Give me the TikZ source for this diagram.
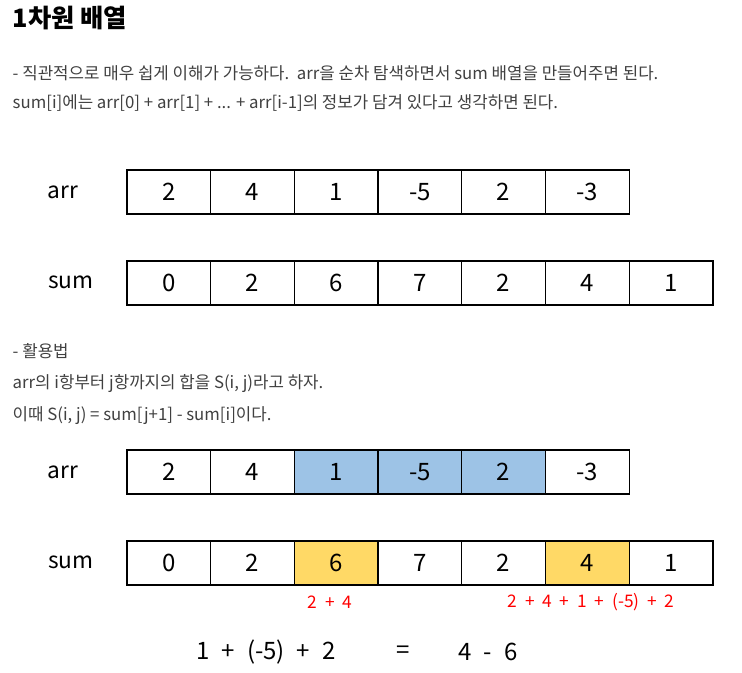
\documentclass[tikz,border=0pt]{standalone}
\usepackage{fontspec}
\setmainfont{Noto Sans CJK KR}
\definecolor{cellblue}{HTML}{9DC3E6}
\definecolor{cellyellow}{HTML}{FFD966}
\definecolor{textgray}{HTML}{404040}
\newcommand{\widegap}[1]{\spaceskip=#1em\relax}

\begin{document}
\begin{tikzpicture}[x=0.75pt, y=-0.75pt,
    cell/.style={draw, line width=1pt, minimum width=62.8pt, minimum height=33pt,
      inner sep=0pt, font=\fontsize{18}{18}\selectfont},
    rowlabel/.style={font=\fontsize{17}{17}\selectfont},
    memo/.style={anchor=west, text=textgray, font=\fontsize{12.6}{12.6}\selectfont},
    redsum/.style={text=red, font=\fontsize{13}{13}\selectfont},
    eqtext/.style={font=\fontsize{18}{18}\selectfont}]

    \useasboundingbox (0,0) rectangle (742,672);

    \node[anchor=west, font=\fontsize{19}{19}\bfseries] (title) at (8,18) {1차원 배열};
    \node[memo] (line1) at (8,73) {- 직관적으로 매우 쉽게 이해가 가능하다.\ \ arr을 순차 탐색하면서 sum 배열을 만들어주면 된다.};
    \node[memo] (line2) at (8,103) {sum[i]에는 arr[0] + arr[1] + ... + arr[i-1]의 정보가 담겨 있다고 생각하면 된다.};

    % first pair of arrays
    \node[rowlabel] (arrA) at (63,192) {arr};
    \foreach \v [count=\i from 0] in {2,4,1,-5,2,-3}
        \node[cell] (arrA-\i) at ({168.85+83.7*\i},192) {\v};
    \node[rowlabel] (sumA) at (71,282) {sum};
    \foreach \v [count=\i from 0] in {0,2,6,7,2,4,1}
        \node[cell] (sumA-\i) at ({168.85+83.7*\i},283) {\v};

    \node[memo] (line3) at (8,351) {- 활용법};
    \node[memo] (line4) at (8,384) {arr의 i항부터 j항까지의 합을 S(i, j)라고 하자.};
    \node[memo] (line5) at (8,416) {이때 S(i, j) = sum[j+1] - sum[i]이다.};

    % second pair, with the range marked
    \node[rowlabel] (arrB) at (63,472) {arr};
    \foreach \v/\c [count=\i from 0] in {2/white,4/white,1/cellblue,-5/cellblue,2/cellblue,-3/white}
        \node[cell, fill=\c] (arrB-\i) at ({168.85+83.7*\i},472) {\v};
    \node[rowlabel] (sumB) at (71,562) {sum};
    \foreach \v/\c [count=\i from 0] in {0/white,2/white,6/cellyellow,7/white,2/white,4/cellyellow,1/white}
        \node[cell, fill=\c] (sumB-\i) at ({168.85+83.7*\i},563) {\v};

    \node[redsum] (lowsum) at (330,602) {\widegap{0.45}2 + 4};
    \node[redsum] (highsum) at (591,602) {\widegap{0.45}2 + 4 + 1 + (-5) + 2};

    \node[eqtext] (lhs) at (266,652) {\widegap{0.5}1 + (-5) + 2};
    \node[eqtext] (equal) at (403,652) {=};
    \node[eqtext] (rhs) at (488,652) {\widegap{0.5}4 - 6};

\end{tikzpicture}
\end{document}
